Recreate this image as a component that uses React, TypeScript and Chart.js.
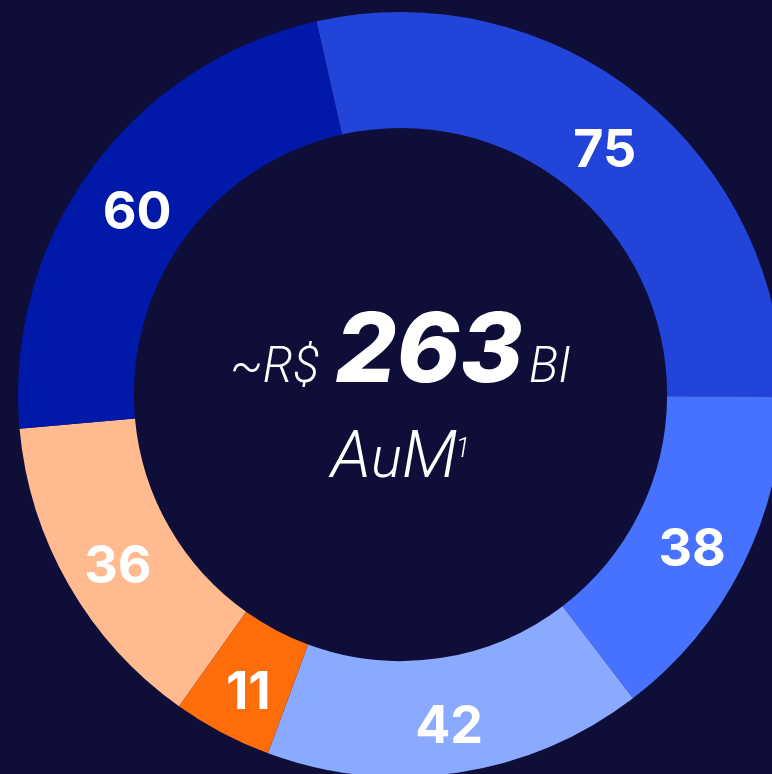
import { useEffect, useRef } from "react";
import { Chart, registerables } from "chart.js";

Chart.register(...registerables);

const categories = ["Segmento 1", "Segmento 2", "Segmento 3", "Segmento 4", "Segmento 5", "Segmento 6"];
const values = [75, 38, 42, 11, 36, 60];
const sliceColors = ["#2244d8", "#4672ff", "#8aaaff", "#ff6d0a", "#ffbb8f", "#0019a8"];
const centerPrefix = "~R$";
const centerValue = "263";
const centerSuffix = "BI";
const centerLabel = ["A", "u", "M"];
const centerNote = "1";

const BG = "#0f0e38";
const FONT = "Inter, 'Liberation Sans', sans-serif";
const LIGHT = "Roboto, 'Liberation Sans', sans-serif";

const labelPlugin = {
  id: "sliceLabels",
  afterDatasetsDraw(chart: any) {
    const ctx = chart.ctx;
    const meta = chart.getDatasetMeta(0);
    const size = 52;
    ctx.save();
    ctx.fillStyle = "#ffffff";
    ctx.font = `700 ${size}px ${FONT}`;
    ctx.textAlign = "center";
    ctx.textBaseline = "alphabetic";
    meta.data.forEach((arc: any, i: number) => {
      const p = arc.getProps(["x", "y", "startAngle", "endAngle", "innerRadius", "outerRadius"], true);
      const mid = (p.startAngle + p.endAngle) / 2;
      const r = (p.innerRadius + p.outerRadius) / 2 + 1.3;
      const x = p.x + Math.cos(mid) * r;
      const y = p.y + 7 + Math.sin(mid) * r;
      ctx.fillText(String(chart.data.datasets[0].data[i]), x, y + size * 0.727 / 2);
    });
    ctx.restore();
  },
};

const centerPlugin = {
  id: "centerText",
  afterDraw(chart: any) {
    const ctx = chart.ctx;
    const arc = chart.getDatasetMeta(0).data[0];
    if (!arc) return;
    const cx = arc.x;
    const cy = arc.y;
    ctx.save();
    ctx.fillStyle = "#ffffff";
    ctx.textBaseline = "alphabetic";
    ctx.textAlign = "left";
    const fSmall = `italic 300 49px ${LIGHT}`;
    const fBig = `italic 800 96px ${FONT}`;
    ctx.font = fSmall;
    const w1 = ctx.measureText(centerPrefix).width;
    const w3 = ctx.measureText(centerSuffix).width;
    ctx.font = fBig;
    const w2 = ctx.measureText(centerValue).width;
    const g1 = 16;
    const g2 = 6;
    const total = w1 + g1 + w2 + g2 + w3;
    let x = cx - total / 2;
    const base1 = cy - 13;
    ctx.font = fSmall;
    ctx.fillText(centerPrefix, x, base1);
    x += w1 + g1;
    ctx.font = fBig;
    ctx.fillText(centerValue, x, base1);
    x += w2 + g2;
    ctx.font = fSmall;
    ctx.fillText(centerSuffix, x, base1);

    const fonts = [`italic 300 66px ${LIGHT}`, `italic 300 58px ${LIGHT}`, `italic 300 66px ${LIGHT}`];
    const fNote = `italic 300 27px ${LIGHT}`;
    const widths = centerLabel.map((s, i) => {
      ctx.font = fonts[i];
      return ctx.measureText(s).width;
    });
    ctx.font = fNote;
    const wn = ctx.measureText(centerNote).width;
    const total2 = widths.reduce((a, b) => a + b, 0) + wn - 2;
    let x2 = cx - total2 / 2;
    const base2 = cy + 82;
    centerLabel.forEach((s, i) => {
      ctx.font = fonts[i];
      ctx.fillText(s, x2, base2);
      x2 += widths[i];
    });
    x2 -= 2;
    ctx.font = fNote;
    ctx.fillText(centerNote, x2, base2 - 20);
    ctx.restore();
  },
};

export default function App() {
  const ref = useRef<HTMLCanvasElement>(null);
  useEffect(() => {
    if (!ref.current) return;
    const chart = new Chart(ref.current, {
      type: "doughnut",
      data: {
        labels: categories,
        datasets: [
          {
            data: values,
            backgroundColor: sliceColors,
            borderWidth: 0,
          },
        ],
      },
      options: {
        responsive: false,
        animation: false,
        events: [],
        rotation: -12.7,
        cutout: "69.7%",
        layout: { padding: 0 },
        plugins: {
          legend: { display: false },
          tooltip: { enabled: false },
        },
      },
      plugins: [labelPlugin, centerPlugin],
    });
    return () => chart.destroy();
  }, []);

  return (
    <div
      style={{
        position: "fixed",
        left: 0,
        top: 0,
        width: 772,
        height: 774,
        overflow: "hidden",
        background: BG,
      }}
    >
      <div style={{ position: "absolute", left: 18, top: 12, width: 765, height: 765 }}>
        <canvas ref={ref} width={765} height={765} style={{ width: 765, height: 765, display: "block" }} />
      </div>
    </div>
  );
}
